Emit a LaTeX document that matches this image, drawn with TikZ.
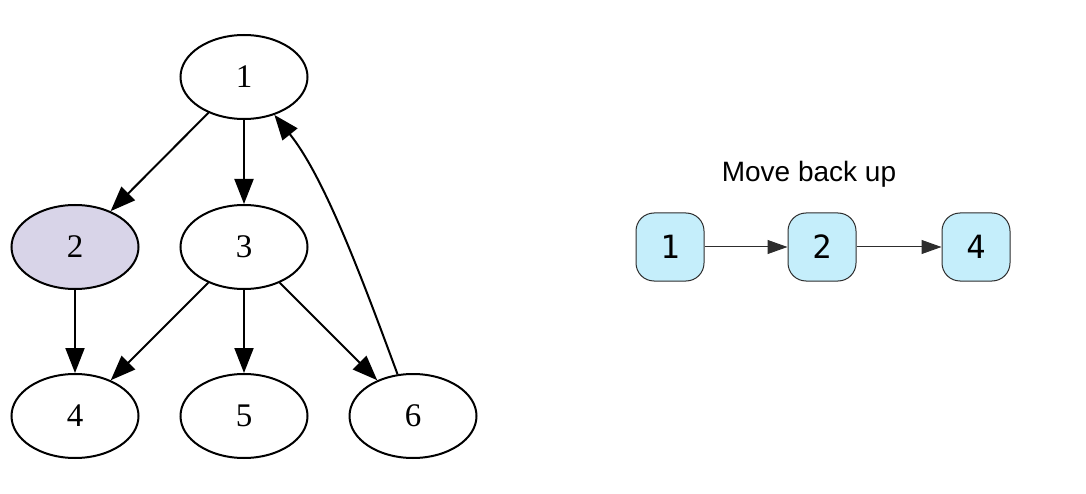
\documentclass[tikz,border=0pt]{standalone}
\usepackage{fontspec}
\setmainfont{Liberation Serif}
\newfontfamily\labelsans{Liberation Sans}
\newfontfamily\boxmono{DejaVu Sans Mono}
\usetikzlibrary{arrows.meta,shapes.geometric}
\definecolor{visitfill}{RGB}{216,212,232}
\definecolor{boxfill}{RGB}{197,238,251}
\definecolor{boxline}{RGB}{45,45,45}
\tikzset{
  gnode/.style={ellipse, draw=black, line width=2pt, minimum width=127pt,
    minimum height=84pt, inner sep=0pt, font=\fontsize{33}{33}\selectfont},
  gedge/.style={line width=2pt, -{Triangle[length=25pt,width=19pt]}},
  pathbox/.style={rectangle, rounded corners=18pt, draw=boxline, fill=boxfill,
    line width=1pt, minimum width=68pt, minimum height=68pt, inner sep=0pt,
    font=\boxmono\fontsize{32}{32}\selectfont},
  pathedge/.style={draw=boxline, line width=1pt,
    -{Triangle[length=20pt,width=14pt,fill=boxline]}},
}
\begin{document}
\begin{tikzpicture}[x=1pt,y=-1pt]
\useasboundingbox (0,0) rectangle (1086,494);
% graph being walked
\node[gnode] (n1) at (244,77) {1};
\node[gnode, fill=visitfill] (n2) at (75,247) {2};
\node[gnode] (n3) at (244,247) {3};
\node[gnode] (n4) at (75,416) {4};
\node[gnode] (n5) at (244,416) {5};
\node[gnode] (n6) at (413,416) {6};
\draw[gedge] (n1) -- (n2);
\draw[gedge] (n1) -- (n3);
\draw[gedge] (n2) -- (n4);
\draw[gedge] (n3) -- (n4);
\draw[gedge] (n3) -- (n5);
\draw[gedge] (n3) -- (n6);
\draw[gedge] (n6) .. controls (363,281) and (325,178) .. (n1);
% current path
\node[font=\labelsans\fontsize{28}{28}\selectfont] (title) at (809,174) {Move back up};
\node[pathbox] (p1) at (670,247) {1};
\node[pathbox] (p2) at (822,247) {2};
\node[pathbox] (p4) at (976,247) {4};
\draw[pathedge] (p1) -- (p2);
\draw[pathedge] (p2) -- (p4);
\end{tikzpicture}
\end{document}
